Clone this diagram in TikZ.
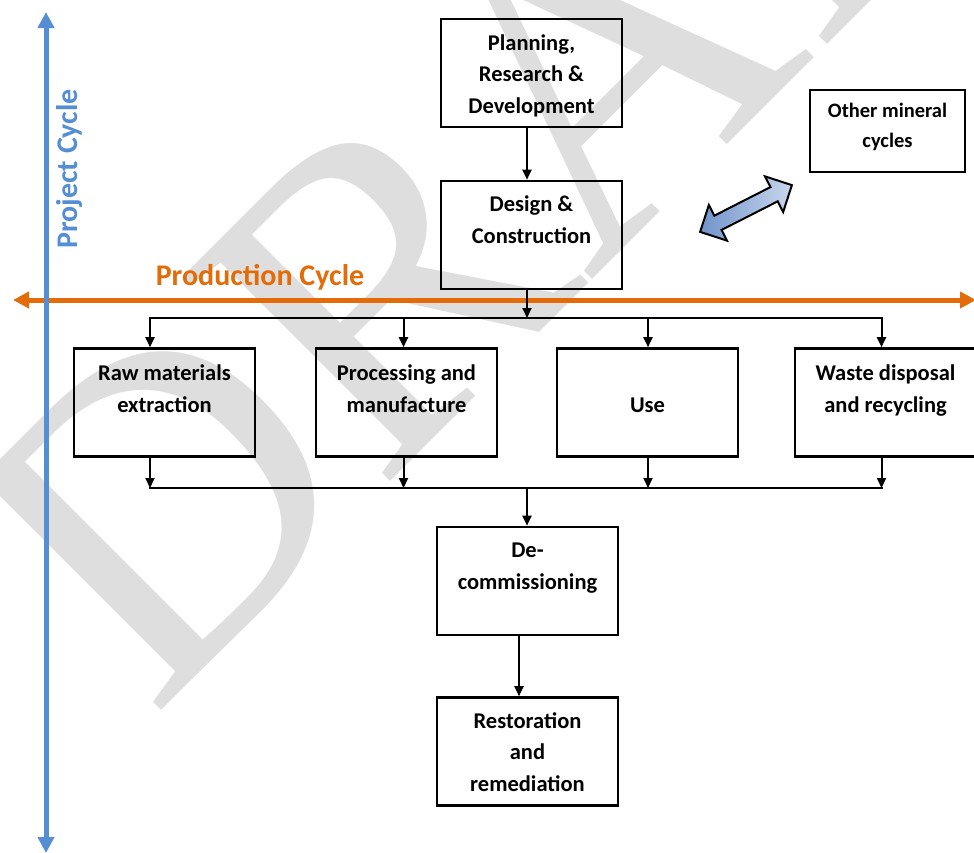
\documentclass[tikz,border=0pt]{standalone}
\usepackage{fontspec}
\setmainfont{Carlito}
\newfontfamily\wmfont{Liberation Serif}
\usetikzlibrary{arrows.meta,calc}
\definecolor{pblue}{HTML}{558ED5}
\definecolor{porange}{HTML}{E36C09}
\definecolor{wmgray}{HTML}{DEDEDE}
\definecolor{arrlight}{HTML}{C9D7EC}
\definecolor{arrdark}{HTML}{7093CB}
\begin{document}
\begin{tikzpicture}[x=1pt,y=-1pt,
  box/.style={draw=black,line width=2.6pt,minimum width=181pt,minimum height=108pt,inner sep=0pt},
  txt/.style={font=\bfseries\fontsize{22.5}{31.5}\selectfont,align=center,anchor=base,inner sep=0pt},
  conn/.style={line width=2pt,-{Triangle[length=10pt,width=9pt]}},
  bus/.style={line width=2pt,line cap=rect},
  bigarrow/.style={line width=5pt,{Triangle[length=16pt,width=16pt]}-{Triangle[length=16pt,width=16pt]}},
  ]
\useasboundingbox (0,0) rectangle (974,852);
\node[text=wmgray, font=\wmfont\fontsize{445}{445}\selectfont, rotate=45, anchor=base west, inner sep=0pt] (wm) at (152,720) {DRAFT};
% main axes
\coordinate (oL) at (13,300); \coordinate (oR) at (976,300);
\coordinate (bT) at (46,12); \coordinate (bB) at (46,853);
\draw[porange,bigarrow] (oR) -- (oL);
\draw[pblue,bigarrow] (bB) -- (bT);
\node[txt, text=pblue, font=\bfseries\fontsize{30}{36}\selectfont, rotate=90] (pc) at (77,169) {Project Cycle};
\node[txt, text=porange, font=\bfseries\fontsize{30}{36}\selectfont] (prc) at (260,285) {Production Cycle};
% boxes
\node[box] (plan) at (531.5,73) {};
\node[box] (dsn) at (531.5,235) {};
\node[box, minimum width=155pt, minimum height=82pt] (oth) at (887.5,131) {};
\node[box] (raw) at (164.5,402.5) {};
\node[box] (proc) at (406.5,402.5) {};
\node[box] (use) at (647.5,402.5) {};
\node[box] (wst) at (885.5,402.5) {};
\node[box] (dec) at (527.5,581) {};
\node[box] (res) at (527.5,751.5) {};
% texts (anchored at the baseline of their last line)
\node[txt] (planT) at (531.5,113) {Planning,\\Research \&\\Development};
\node[txt] (dsnT) at (531.5,243) {Design \&\\Construction};
\node[txt, font=\bfseries\fontsize{20.5}{29.5}\selectfont] (othT) at (887.5,147) {Other mineral\\cycles};
\node[txt] (rawT) at (164.5,412) {Raw materials\\extraction};
\node[txt] (procT) at (406.5,412) {Processing and\\manufacture};
\node[txt] (useT) at (647.5,412) {Use};
\node[txt] (wstT) at (885.5,412) {Waste disposal\\and recycling};
\node[txt] (decT) at (527.5,589) {De-\\commissioning};
\node[txt] (resT) at (527.5,791) {Restoration\\and\\remediation};
% double block arrow
\begin{scope}[shift={(746,208.5)}, rotate=27]
\draw[line width=2pt, line join=miter, left color=arrdark, right color=arrlight]
  (-51.5,0) -- (-31.5,-20) -- (-31.5,-8) -- (31.5,-8) -- (31.5,-20) -- (51.5,0)
  -- (31.5,20) -- (31.5,8) -- (-31.5,8) -- (-31.5,20) -- cycle;
\end{scope}
% connectors
\coordinate (bt) at (527,318); \coordinate (bb) at (527,488);
\coordinate (c1) at (150,318); \coordinate (c2) at (403.5,318);
\coordinate (c3) at (648,318); \coordinate (c4) at (881.5,318);
\coordinate (e1) at (150,488); \coordinate (e2) at (403.5,488);
\coordinate (e3) at (648,488); \coordinate (e4) at (881.5,488);
\coordinate (dr) at (519,660);
\draw[conn] (plan.south -| bt) -- (dsn.north -| bt);
\draw[conn] (dsn.south -| bt) -- (bt);
\draw[bus] (c1) -- (c4);
\draw[conn] (c1) -- (c1 |- raw.north);
\draw[conn] (c2) -- (c2 |- proc.north);
\draw[conn] (c3) -- (c3 |- use.north);
\draw[conn] (c4) -- (c4 |- wst.north);
\draw[conn] (e1 |- raw.south) -- (e1);
\draw[conn] (e2 |- proc.south) -- (e2);
\draw[conn] (e3 |- use.south) -- (e3);
\draw[conn] (e4 |- wst.south) -- (e4);
\draw[bus] (e1) -- (e4);
\draw[conn] (bb) -- (bb |- dec.north);
\draw[conn] (dec.south -| dr) -- (res.north -| dr);
\end{tikzpicture}
\end{document}
